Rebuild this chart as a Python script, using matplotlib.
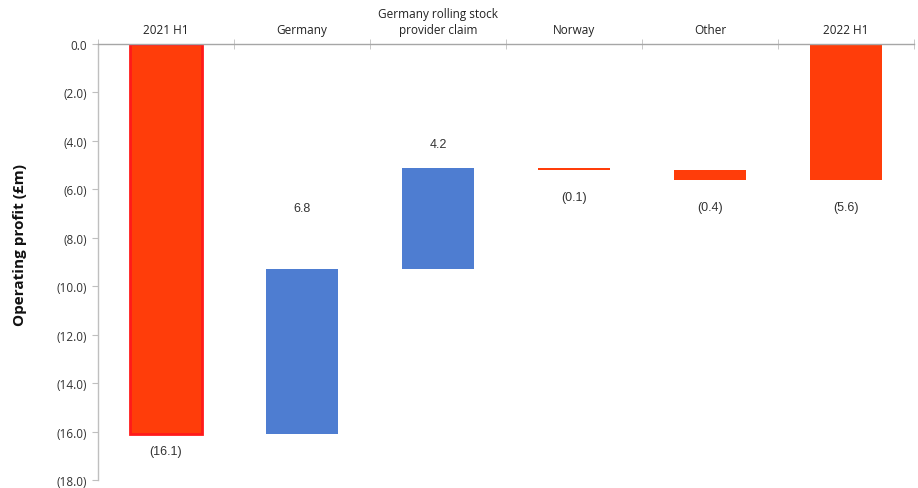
import matplotlib.pyplot as plt
import numpy as np

categories = ['2021 H1', 'Germany', 'Germany rolling stock\nprovider claim', 'Norway', 'Other', '2022 H1']
changes = [-16.1, 6.8, 4.2, -0.1, -0.4, -5.6]
is_total = [True, False, False, False, False, True]
labels = ['(16.1)', '6.8', '4.2', '(0.1)', '(0.4)', '(5.6)']
yticks = [0, -2, -4, -6, -8, -10, -12, -14, -16, -18]

red = '#FF3D0A'
blue = '#4E7DD1'
grey = '#BFBFBF'

fig = plt.figure(figsize=(9.18, 4.89), dpi=100)
ax = fig.add_axes([0.1068, 0.0164, 0.889, 0.8916])

x = np.arange(len(categories))
running = 0.0
for i, (d, tot) in enumerate(zip(changes, is_total)):
    if tot:
        start = 0.0
        end = d
    else:
        start = running
        end = running + d
    running = end
    color = blue if d > 0 else red
    edge = '#FF1A1A' if i == 0 else color
    lw = 2 if i == 0 else 0
    ax.bar(i, end - start, bottom=start, width=0.53, color=color,
           edgecolor=edge, linewidth=lw)
    # label above the top for rises, below the bottom for falls
    if d > 0:
        off = 44 if i == 1 else 17
        ax.annotate(labels[i], (i, max(start, end)), xytext=(0, off),
                    textcoords='offset points', ha='center', va='center',
                    fontsize=9, family='Liberation Sans', color='#333333')
    else:
        off = 12.5 if i == 0 else 19.5
        ax.annotate(labels[i], (i, min(start, end)), xytext=(0, -off),
                    textcoords='offset points', ha='center', va='center',
                    fontsize=9, family='Liberation Sans', color='#333333')

ax.set_xlim(-0.5, len(categories) - 0.5)
ax.set_ylim(-18, 0)
ax.set_yticks(yticks)
ax.set_yticklabels(['0.0'] + ['(%.1f)' % -v for v in yticks[1:]],
                   fontsize=8.5, family='Open Sans', color='#333333')

ax.xaxis.tick_top()
ax.set_xticks(x)
ax.set_xticklabels(categories, fontsize=8.5, family='Open Sans', color='#222222',
                   linespacing=1.3)
ax.set_xticks(np.arange(-0.5, len(categories)), minor=True)
ax.tick_params(axis='x', which='major', length=0, pad=6)
ax.tick_params(axis='x', which='minor', direction='inout', length=7, color=grey, top=True, bottom=False)
ax.tick_params(axis='y', direction='out', length=4, color=grey, pad=4)

for s in ['bottom', 'right']:
    ax.spines[s].set_visible(False)
for s in ['top', 'left']:
    ax.spines[s].set_color(grey)
    ax.spines[s].set_linewidth(1)
ax.spines['top'].set_color('#A6A6A6')

fig.text(0.022, 0.5, 'Operating profit (£m)', rotation=90, ha='center', va='center',
         fontsize=11, fontweight='bold', family='Open Sans', color='#111111')

fig.savefig('out.png', dpi=100)
